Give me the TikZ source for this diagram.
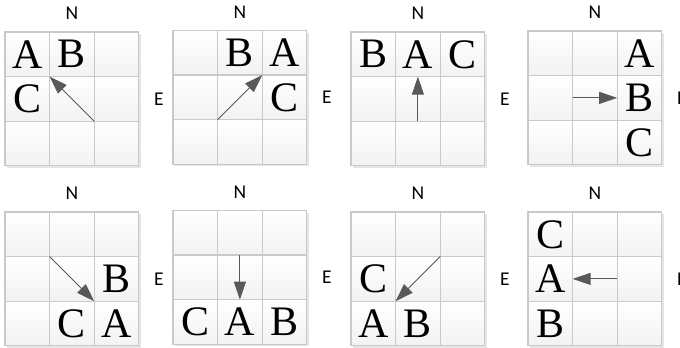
\documentclass[tikz,border=0pt]{standalone}
\usepackage{fontspec}
\setmainfont{Liberation Serif}
\newfontfamily\compassfont{Carlito}
\usetikzlibrary{arrows.meta}

\tikzset{
  cellbox/.style={draw=black!21, line width=1.3pt, top color=white, bottom color=black!5},
  boxshadow/.style={fill=black!10},
  letter/.style={inner sep=0pt, font=\fontsize{42}{42}\selectfont},
  compass/.style={inner sep=0pt, font=\compassfont\fontsize{19.5}{19.5}\selectfont},
  move/.style={draw=black!65, line width=0.9pt, -{Triangle[length=18pt,width=12pt]}},
}

\begin{document}
\begin{tikzpicture}[x=1pt,y=-1pt]
        \useasboundingbox (0,0) rectangle (680,348);
        \def\cs{44.6}

        % 3x3 boards, with grid points and cell centres
        \foreach \k/\ox/\oy in {1/5/32, 2/173/30.5, 3/351/32, 4/528/31,
                                5/5/212, 6/173/210.5, 7/351/212, 8/528/212}{
            \fill[boxshadow] ({\ox+2},{\oy+2}) rectangle ++({3*\cs},{3*\cs});
            \foreach \i in {0,1,2}
                \foreach \j in {0,1,2}
                    \shadedraw[cellbox] ({\ox+\i*\cs},{\oy+\j*\cs}) rectangle ++(\cs,\cs);
            \foreach \i in {0,...,3}
                \foreach \j in {0,...,3}
                    \coordinate (g\k-\i\j) at ({\ox+\i*\cs},{\oy+\j*\cs});
            \foreach \i in {0,1,2}
                \foreach \j in {0,1,2}
                    \coordinate (g\k-c\i\j) at ({\ox+(\i+.5)*\cs},{\oy+(\j+.5)*\cs});
            \node[compass] (g\k-N) at ({\ox+1.5*\cs},{\oy-18.5}) {N};
            \node[compass] (g\k-E) at ({\ox+3*\cs+20},{\oy+1.5*\cs}) {E};
        }

        % Top row
        \node[letter] (g1A) at (g1-c00) {A};
        \node[letter] (g1B) at (g1-c10) {B};
        \node[letter] (g1C) at (g1-c01) {C};
        \draw[move] (g1-22) -- (g1-11);

        \node[letter] (g2B) at (g2-c10) {B};
        \node[letter] (g2A) at (g2-c20) {A};
        \node[letter] (g2C) at (g2-c21) {C};
        \draw[move] (g2-12) -- (g2-21);

        \node[letter] (g3B) at (g3-c00) {B};
        \node[letter] (g3A) at (g3-c10) {A};
        \node[letter] (g3C) at (g3-c20) {C};
        \draw[move] (g3-c11 |- g3-02) -- (g3-c11 |- g3-01);

        \node[letter] (g4A) at (g4-c20) {A};
        \node[letter] (g4B) at (g4-c21) {B};
        \node[letter] (g4C) at (g4-c22) {C};
        \draw[move] (g4-c11 -| g4-10) -- (g4-c11 -| g4-20);

        % Bottom row
        \node[letter] (g5B) at (g5-c21) {B};
        \node[letter] (g5C) at (g5-c12) {C};
        \node[letter] (g5A) at (g5-c22) {A};
        \draw[move] (g5-11) -- (g5-22);

        \node[letter] (g6C) at (g6-c02) {C};
        \node[letter] (g6A) at (g6-c12) {A};
        \node[letter] (g6B) at (g6-c22) {B};
        \draw[move] (g6-c11 |- g6-01) -- (g6-c11 |- g6-02);

        \node[letter] (g7C) at (g7-c01) {C};
        \node[letter] (g7A) at (g7-c02) {A};
        \node[letter] (g7B) at (g7-c12) {B};
        \draw[move] (g7-21) -- (g7-12);

        \node[letter] (g8C) at (g8-c00) {C};
        \node[letter] (g8A) at (g8-c01) {A};
        \node[letter] (g8B) at (g8-c02) {B};
        \draw[move] (g8-c11 -| g8-20) -- (g8-c11 -| g8-10);
    \end{tikzpicture}
\end{document}
